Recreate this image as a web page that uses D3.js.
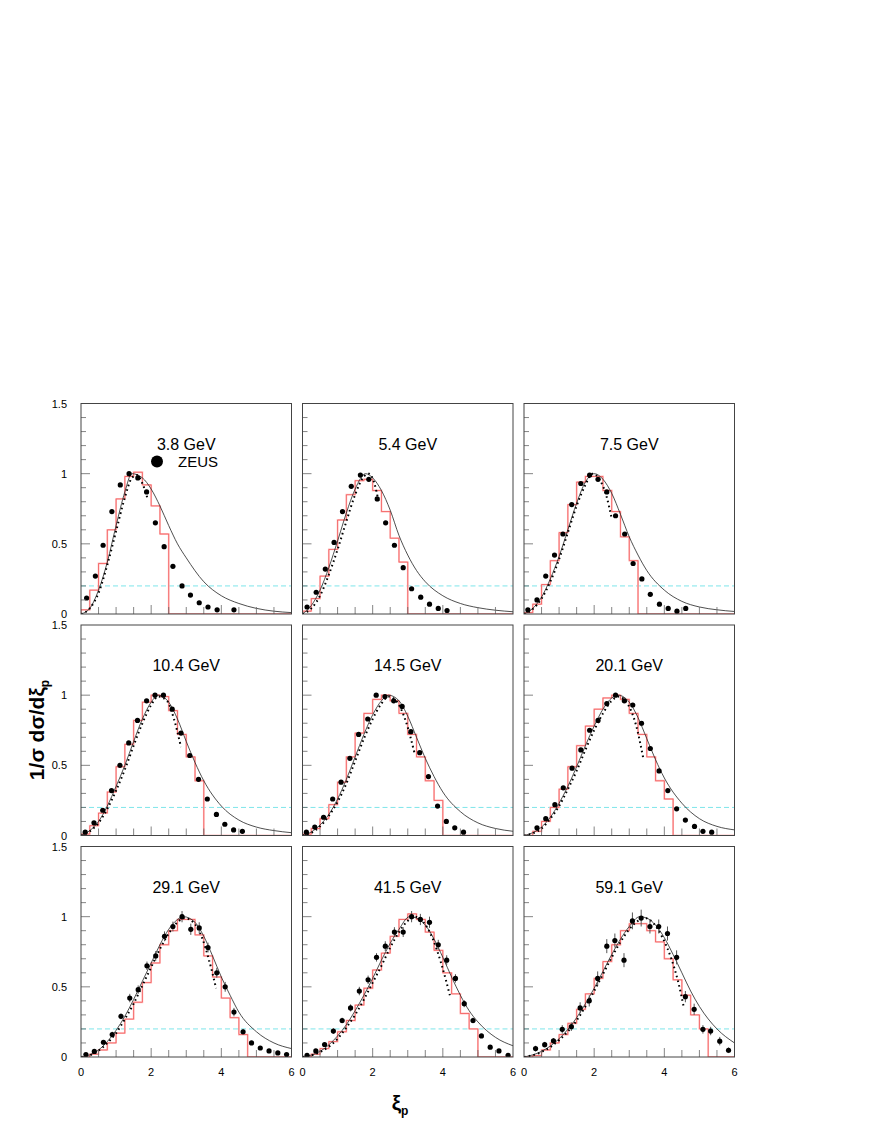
<!DOCTYPE html>
<html><head><meta charset="utf-8">
<script src="https://cdn.jsdelivr.net/npm/d3@7"></script>
<style>body{margin:0;background:#fff}</style></head>
<body><svg id="c" width="880" height="1139"></svg>
<script>
const labels=["3.8 GeV","5.4 GeV","7.5 GeV","10.4 GeV","14.5 GeV","20.1 GeV","29.1 GeV","41.5 GeV","59.1 GeV"];
const xTicks=[0,2,4,6];
const yTicks=[0,0.5,1,1.5];
const refLine=0.2;
const binWidth=0.25;
// ZEUS data points [xi, value]
const dots=[
 [[0.16,0.114],[0.41,0.27],[0.63,0.49],[0.88,0.73],[1.12,0.92],[1.37,1.0],[1.62,0.97],[1.87,0.87],[2.12,0.65],[2.37,0.48],[2.62,0.34],[2.88,0.2],[3.12,0.135],[3.37,0.08],[3.62,0.05],[3.88,0.03],[4.36,0.03]],
 [[0.13,0.05],[0.39,0.155],[0.65,0.32],[0.9,0.51],[1.14,0.73],[1.39,0.91],[1.65,0.99],[1.89,0.96],[2.13,0.82],[2.37,0.65],[2.62,0.49],[2.87,0.33],[3.11,0.18],[3.37,0.12],[3.62,0.07],[3.87,0.04],[4.12,0.025]],
 [[0.11,0.03],[0.37,0.10],[0.62,0.27],[0.87,0.42],[1.11,0.57],[1.36,0.78],[1.62,0.93],[1.87,0.99],[2.11,0.96],[2.36,0.87],[2.61,0.7],[2.87,0.57],[3.11,0.36],[3.36,0.25],[3.6,0.14],[3.86,0.07],[4.11,0.04],[4.36,0.02],[4.61,0.04]],
 [[0.12,0.024],[0.37,0.09],[0.62,0.18],[0.87,0.32],[1.11,0.5],[1.36,0.66],[1.61,0.82],[1.87,0.96],[2.11,1.0],[2.35,1.0],[2.6,0.9],[2.85,0.73],[3.1,0.57],[3.35,0.4],[3.6,0.26],[3.86,0.15],[4.1,0.08],[4.35,0.04],[4.6,0.03]],
 [[0.11,0.024],[0.35,0.06],[0.6,0.13],[0.86,0.26],[1.1,0.38],[1.35,0.55],[1.6,0.72],[1.86,0.83],[2.1,1.0],[2.35,0.99],[2.6,0.96],[2.84,0.92],[3.09,0.74],[3.34,0.59],[3.59,0.42],[3.85,0.21],[4.1,0.1],[4.34,0.055],[4.59,0.024]],
 [[0.37,0.055],[0.62,0.12],[0.88,0.22],[1.12,0.34],[1.37,0.48],[1.62,0.61],[1.87,0.75],[2.11,0.82],[2.36,0.94],[2.61,1.0],[2.86,0.96],[3.1,0.93],[3.35,0.8],[3.6,0.62],[3.85,0.46],[4.1,0.32],[4.35,0.19],[4.6,0.11],[4.86,0.065],[5.1,0.03],[5.35,0.024]],
 [[0.14,0.017],[0.38,0.04],[0.64,0.105],[0.89,0.16],[1.14,0.29],[1.39,0.42],[1.63,0.48],[1.88,0.65],[2.13,0.72],[2.38,0.86],[2.62,0.93],[2.88,1.0],[3.13,0.91],[3.37,0.92],[3.62,0.78],[3.87,0.6],[4.11,0.5],[4.36,0.32],[4.62,0.18],[4.86,0.1],[5.11,0.064],[5.36,0.043],[5.61,0.029],[5.86,0.017]],
 [[0.13,0.012],[0.38,0.043],[0.63,0.089],[0.88,0.185],[1.13,0.26],[1.37,0.35],[1.62,0.47],[1.87,0.55],[2.11,0.71],[2.36,0.79],[2.62,0.89],[2.87,0.89],[3.11,1.0],[3.36,0.98],[3.62,0.96],[3.87,0.8],[4.11,0.69],[4.36,0.56],[4.61,0.38],[4.86,0.26],[5.1,0.15],[5.35,0.07],[5.6,0.043],[5.86,0.012]],
 [[0.33,0.06],[0.59,0.088],[0.84,0.115],[1.09,0.197],[1.35,0.216],[1.6,0.35],[1.86,0.4],[2.1,0.56],[2.36,0.79],[2.59,0.83],[2.85,0.69],[3.09,0.97],[3.34,0.99],[3.59,0.93],[3.84,0.93],[4.09,0.88],[4.35,0.71],[4.6,0.43],[4.85,0.34],[5.1,0.197],[5.32,0.185],[5.58,0.113],[5.83,0.048]]
];
// error bar half-lengths (bottom row visible)
const errs=[null,null,null,null,null,null,
 [0.01,0.01,0.015,0.02,0.02,0.03,0.03,0.03,0.035,0.035,0.035,0.04,0.04,0.04,0.035,0.035,0.035,0.03,0.02,0.015,0.01,0.01,0.01,0.01],
 [0.01,0.01,0.015,0.02,0.02,0.025,0.03,0.03,0.03,0.035,0.035,0.035,0.04,0.04,0.04,0.035,0.035,0.03,0.025,0.02,0.015,0.01,0.01,0.01],
 [0.02,0.02,0.02,0.03,0.03,0.04,0.04,0.05,0.05,0.05,0.05,0.06,0.06,0.05,0.05,0.05,0.05,0.04,0.04,0.03,0.03,0.03,0.02]
];
// histogram bin heights (bins of 0.25 from 0)
const hists=[
 [0.03,0.17,0.36,0.6,0.82,0.98,1.01,0.92,0.77,0.57],
 [0.02,0.11,0.27,0.46,0.67,0.85,0.95,0.96,0.88,0.73,0.54,0.37],
 [0.01,0.07,0.21,0.38,0.58,0.78,0.94,0.98,0.98,0.88,0.73,0.55,0.38],
 [0.01,0.07,0.16,0.31,0.49,0.65,0.82,0.95,1.0,0.99,0.89,0.72,0.56,0.39],
 [0.01,0.05,0.12,0.22,0.38,0.56,0.73,0.87,0.97,1.0,0.96,0.87,0.72,0.56,0.39,0.25],
 [0.0,0.03,0.1,0.2,0.33,0.49,0.64,0.78,0.9,0.98,1.0,0.97,0.87,0.72,0.56,0.39,0.26],
 [0.0,0.02,0.05,0.1,0.17,0.27,0.39,0.53,0.67,0.8,0.9,0.98,0.98,0.87,0.72,0.57,0.42,0.28,0.16],
 [0.0,0.02,0.06,0.11,0.18,0.26,0.37,0.49,0.62,0.74,0.86,0.98,1.02,0.98,0.89,0.76,0.6,0.45,0.31,0.2],
 [0.0,0.01,0.05,0.1,0.16,0.24,0.34,0.45,0.56,0.68,0.8,0.9,0.95,0.95,0.9,0.82,0.7,0.55,0.44,0.3,0.2]
];
// smooth curves [xi, value]
const curves=[
 [[0,0],[0.25,0.04],[0.5,0.17],[0.75,0.37],[1,0.63],[1.25,0.87],[1.45,1.0],[1.75,0.97],[2,0.89],[2.25,0.77],[2.5,0.63],[2.75,0.5],[3,0.4],[3.5,0.23],[4,0.13],[4.5,0.075],[5,0.04],[5.5,0.02],[6,0.01]],
 [[0,0],[0.25,0.06],[0.5,0.17],[0.75,0.33],[1,0.52],[1.25,0.72],[1.5,0.89],[1.8,1.0],[2,0.97],[2.25,0.88],[2.5,0.74],[2.75,0.56],[3,0.42],[3.25,0.31],[3.5,0.23],[4,0.13],[4.5,0.075],[5,0.045],[5.5,0.027],[6,0.016]],
 [[0,0],[0.25,0.04],[0.5,0.12],[0.75,0.25],[1,0.41],[1.25,0.6],[1.5,0.79],[1.75,0.94],[2,1.0],[2.25,0.96],[2.5,0.86],[2.75,0.71],[3,0.55],[3.25,0.42],[3.5,0.31],[4,0.17],[4.5,0.09],[5,0.05],[5.5,0.03],[6,0.018]],
 [[0,0],[0.25,0.035],[0.5,0.1],[0.75,0.21],[1,0.35],[1.25,0.5],[1.5,0.67],[1.75,0.83],[2,0.95],[2.2,1.0],[2.5,0.95],[2.75,0.83],[3,0.67],[3.25,0.52],[3.5,0.39],[4,0.21],[4.5,0.11],[5,0.06],[5.5,0.035],[6,0.02]],
 [[0,0],[0.25,0.025],[0.5,0.075],[0.75,0.15],[1,0.26],[1.25,0.4],[1.5,0.56],[1.75,0.72],[2,0.86],[2.25,0.96],[2.45,1.0],[2.75,0.96],[3,0.85],[3.25,0.7],[3.5,0.55],[3.75,0.42],[4,0.31],[4.5,0.17],[5,0.09],[5.5,0.05],[6,0.03]],
 [[0,0],[0.25,0.02],[0.5,0.06],[0.75,0.13],[1,0.23],[1.25,0.35],[1.5,0.49],[1.75,0.64],[2,0.78],[2.25,0.9],[2.5,0.98],[2.68,1.0],[3,0.95],[3.25,0.84],[3.5,0.69],[3.75,0.54],[4,0.41],[4.5,0.23],[5,0.12],[5.5,0.065],[6,0.04]],
 [[0,0],[0.25,0.015],[0.5,0.05],[0.75,0.11],[1,0.19],[1.25,0.29],[1.5,0.41],[1.75,0.54],[2,0.67],[2.25,0.8],[2.5,0.91],[2.75,0.98],[2.92,1.0],[3.25,0.96],[3.5,0.86],[3.75,0.72],[4,0.57],[4.25,0.44],[4.5,0.32],[5,0.18],[5.5,0.1],[6,0.06]],
 [[0,0],[0.5,0.04],[1,0.15],[1.25,0.23],[1.5,0.33],[1.75,0.44],[2,0.56],[2.25,0.69],[2.5,0.81],[2.75,0.91],[3.05,1.0],[3.25,0.99],[3.5,0.94],[3.75,0.84],[4,0.71],[4.25,0.57],[4.5,0.44],[4.75,0.33],[5,0.25],[5.5,0.14],[6,0.08]],
 [[0,0],[0.5,0.04],[1,0.13],[1.5,0.28],[1.75,0.38],[2,0.49],[2.25,0.61],[2.5,0.73],[2.75,0.84],[3,0.93],[3.3,1.0],[3.5,0.99],[3.75,0.94],[4,0.85],[4.25,0.73],[4.5,0.6],[4.75,0.47],[5,0.36],[5.5,0.2],[6,0.1]]
];
// dotted curves [xi, value]
const dotted=[
 [[0,0],[0.25,0.04],[0.5,0.15],[0.75,0.35],[1,0.59],[1.25,0.83],[1.45,0.97],[1.6,0.99],[1.75,0.93],[1.9,0.82]],
 [[0,0],[0.25,0.04],[0.5,0.13],[0.75,0.28],[1,0.46],[1.25,0.66],[1.5,0.85],[1.75,0.98],[1.9,1.0],[2.05,0.93],[2.17,0.8]],
 [[0,0],[0.25,0.035],[0.5,0.11],[0.75,0.23],[1,0.39],[1.25,0.58],[1.5,0.77],[1.75,0.92],[1.95,1.0],[2.15,0.96],[2.35,0.84],[2.5,0.68]],
 [[0,0],[0.25,0.03],[0.5,0.09],[0.75,0.19],[1,0.32],[1.25,0.47],[1.5,0.64],[1.75,0.8],[2,0.93],[2.2,0.99],[2.45,0.96],[2.65,0.83],[2.85,0.63]],
 [[0,0],[0.25,0.02],[0.5,0.065],[0.75,0.14],[1,0.24],[1.25,0.37],[1.5,0.53],[1.75,0.69],[2,0.83],[2.25,0.94],[2.45,0.99],[2.7,0.95],[2.95,0.81],[3.2,0.58]],
 [[0,0],[0.25,0.015],[0.5,0.05],[0.75,0.12],[1,0.21],[1.25,0.33],[1.5,0.46],[1.75,0.61],[2,0.75],[2.25,0.87],[2.5,0.96],[2.7,0.99],[2.95,0.94],[3.2,0.78],[3.4,0.55]],
 [[0,0],[0.25,0.012],[0.5,0.045],[0.75,0.1],[1,0.17],[1.25,0.27],[1.5,0.38],[1.75,0.51],[2,0.64],[2.25,0.77],[2.5,0.88],[2.75,0.96],[2.95,0.99],[3.2,0.96],[3.45,0.85],[3.65,0.69],[3.85,0.49]],
 [[0,0],[0.5,0.035],[1,0.13],[1.25,0.21],[1.5,0.3],[1.75,0.41],[2,0.53],[2.25,0.65],[2.5,0.78],[2.75,0.89],[3,0.97],[3.2,1.0],[3.45,0.96],[3.7,0.85],[3.95,0.67],[4.2,0.44]],
 [[0,0],[0.5,0.035],[1,0.12],[1.5,0.26],[1.75,0.36],[2,0.47],[2.25,0.59],[2.5,0.71],[2.75,0.82],[3,0.91],[3.25,0.97],[3.45,0.99],[3.7,0.95],[3.95,0.85],[4.2,0.7],[4.4,0.53],[4.55,0.36]]
];

const svg=d3.select("#c");
const colX=[81,302.5,524], colW=210.5;
const rowY=[403.5,625,846.5], rowH=210.5;
const font="Helvetica, Arial, 'Liberation Sans', sans-serif";

for(let i=0;i<9;i++){
  const c=i%3, r=Math.floor(i/3);
  const g=svg.append("g").attr("transform",`translate(${colX[c]},${rowY[r]})`);
  const x=d3.scaleLinear().domain([0,6]).range([0,colW]);
  const y=d3.scaleLinear().domain([0,1.5]).range([rowH,0]);
  const clipId="clip"+i;
  g.append("clipPath").attr("id",clipId).append("rect").attr("width",colW).attr("height",rowH);
  const inner=g.append("g").attr("clip-path",`url(#${clipId})`);
  d3.range(1,15).forEach(k=>{const v=k/10;const L=(k%5===0)?9:5;
    g.append("line").attr("x1",0).attr("x2",L).attr("y1",y(v)).attr("y2",y(v)).attr("stroke","#666").attr("stroke-width",0.8);});
  d3.range(1,12).forEach(k=>{const v=k/2;const L=(k%4===0)?9:7;
    g.append("line").attr("x1",x(v)).attr("x2",x(v)).attr("y1",rowH).attr("y2",rowH-L).attr("stroke","#666").attr("stroke-width",0.8);});
  inner.append("line").attr("x1",0).attr("x2",colW).attr("y1",y(refLine)).attr("y2",y(refLine))
    .attr("stroke","#7ee6ea").attr("stroke-width",1).attr("stroke-dasharray","5,3");
  const h=hists[i]; const pts=[[0,0]];
  h.forEach((v,k)=>{pts.push([k*binWidth,v]);pts.push([(k+1)*binWidth,v]);});
  pts.push([h.length*binWidth,0]); pts.push([6,0]);
  const hl=d3.line().x(d=>x(d[0])).y(d=>y(d[1]));
  inner.append("path").attr("d",hl(pts)).attr("fill","none").attr("stroke","#ffc4c4").attr("stroke-width",1.8);
  inner.append("path").attr("d",hl(pts)).attr("fill","none").attr("stroke","#f04848").attr("stroke-width",0.7);
  const cl=d3.line().x(d=>x(d[0])).y(d=>y(d[1])).curve(d3.curveMonotoneX);
  inner.append("path").attr("d",cl(curves[i])).attr("fill","none").attr("stroke","#222").attr("stroke-width",0.8);
  inner.append("path").attr("d",cl(dotted[i])).attr("fill","none").attr("stroke","#000").attr("stroke-width",2)
    .attr("stroke-dasharray","1.6,3.2");
  if(errs[i]) dots[i].forEach((d,k)=>{const e=errs[i][k];
    inner.append("line").attr("x1",x(d[0])).attr("x2",x(d[0])).attr("y1",y(d[1]-e)).attr("y2",y(d[1]+e)).attr("stroke","#555").attr("stroke-width",1);});
  inner.selectAll("circle.d").data(dots[i]).enter().append("circle")
    .attr("cx",d=>x(d[0])).attr("cy",d=>y(d[1])).attr("r",2.6).attr("fill","#000");
  g.append("rect").attr("width",colW).attr("height",rowH).attr("fill","none").attr("stroke","#444").attr("stroke-width",1);
  g.append("text").attr("x",colW/2).attr("y",46).attr("text-anchor","middle")
    .attr("font-family",font).attr("font-size",16).text(labels[i]);
  if(i===0){
    g.append("circle").attr("cx",76).attr("cy",58).attr("r",6).attr("fill","#000");
    g.append("text").attr("x",97).attr("y",63).attr("font-family",font).attr("font-size",15).text("ZEUS");
  }
  if(c===0) yTicks.forEach(v=>g.append("text").attr("x",-14).attr("y",y(v)+4).attr("text-anchor","end")
    .attr("font-family",font).attr("font-size",11).text(d3.format("~g")(v)));
  if(r===2) xTicks.forEach(v=>g.append("text").attr("x",x(v)).attr("y",rowH+19).attr("text-anchor","middle")
    .attr("font-family",font).attr("font-size",11).text(v));
}
const yt=svg.append("text").attr("transform","translate(44,730) rotate(-90)").attr("text-anchor","middle")
  .attr("font-family",font).attr("font-size",21).attr("font-weight","bold");
yt.append("tspan").text("1/σ dσ/dξ");
yt.append("tspan").attr("font-size",12).attr("dy",5).text("p");
const xt=svg.append("text").attr("x",400).attr("y",1110).attr("text-anchor","middle")
  .attr("font-family",font).attr("font-size",21).attr("font-weight","bold");
xt.append("tspan").text("ξ");
xt.append("tspan").attr("font-size",12).attr("dy",5).text("p");
</script></body></html>
